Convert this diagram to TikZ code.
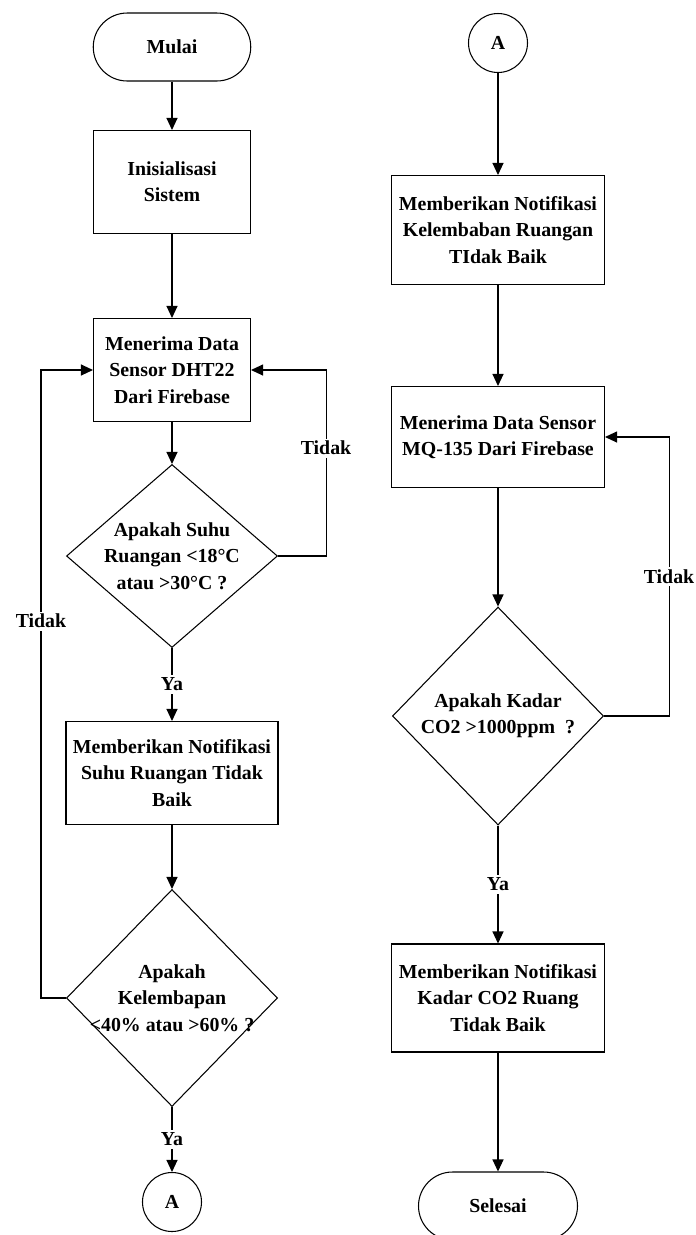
\documentclass[tikz,border=0pt]{standalone}
\usepackage{fontspec}
\setmainfont{Liberation Serif}
\usetikzlibrary{arrows.meta,shapes.geometric}

\begin{document}
\begin{tikzpicture}[
    font=\bfseries\fontsize{11.3}{15}\selectfont,
    line width=0.6pt,
    every node/.style={align=center},
    terminal/.style={draw, rectangle, rounded corners=0.68cm, minimum width=3.15cm, minimum height=1.36cm},
    process/.style={draw, rectangle, minimum width=#1, minimum height=2.06cm, inner sep=1pt},
    process/.default=3.14cm,
    decision/.style={draw, diamond, minimum width=4.22cm, minimum height=#1, inner sep=0pt},
    connector/.style={draw, circle, minimum size=1.18cm, inner sep=0pt},
    arr/.style={-{Triangle[length=2.4mm,width=2.2mm]}},
    lbl/.style={fill=white, inner sep=1.5pt}
]
    \useasboundingbox (0, 0) rectangle (13.92, -24.70);

    % kolom kiri
    \node[terminal] (mulai) at (3.44, -0.94) {Mulai};
    \node[process] (init) at (3.44, -3.64) {Inisialisasi\\Sistem};
    \node[process] (dht) at (3.44, -7.40) {Menerima Data\\Sensor DHT22\\Dari Firebase};
    \node[decision=3.66cm, label={center:{Apakah Suhu\\Ruangan <18°C\\atau >30°C ?}}] (suhu) at (3.44, -11.12) {};
    \node[process=4.24cm] (notifsuhu) at (3.44, -15.46) {Memberikan Notifikasi\\Suhu Ruangan Tidak\\Baik};
    \node[decision=4.34cm, label={center:{Apakah\\Kelembapan\\<40\% atau >60\% ?}}] (lembab) at (3.44, -19.96) {};
    \node[connector] (pA) at (3.44, -24.04) {A};

    % kolom kanan
    \node[connector] (pB) at (9.96, -0.86) {A};
    \node[process=4.26cm, minimum height=2.18cm] (notiflembab) at (9.96, -4.60) {Memberikan Notifikasi\\Kelembaban Ruangan\\TIdak Baik};
    \node[process=4.26cm, minimum height=2.02cm] (mq) at (9.96, -8.74) {Menerima Data Sensor\\MQ-135 Dari Firebase};
    \node[decision=4.36cm, label={center:{Apakah Kadar\\CO2 >1000ppm~~?}}] (co) at (9.96, -14.32) {};
    \node[process=4.26cm, minimum height=2.16cm] (notifco) at (9.96, -19.96) {Memberikan Notifikasi\\Kadar CO2 Ruang\\Tidak Baik};
    \node[terminal, minimum width=3.18cm] (selesai) at (9.96, -24.12) {Selesai};

    \draw[arr] (mulai) -- (init);
    \draw[arr] (init) -- (dht);
    \draw[arr] (dht) -- (suhu);
    \draw[arr] (suhu) -- node[lbl] {Ya} (notifsuhu);
    \draw[arr] (notifsuhu) -- (lembab);
    \draw[arr] (lembab) -- node[lbl] {Ya} (pA);
    \draw[arr] (suhu.east) -- ++(0.96, 0) |- node[lbl, pos=0.29] {Tidak} (dht.east);
    \draw[arr] (lembab.west) -- ++(-0.5, 0) |- node[lbl, pos=0.3] {Tidak} (dht.west);

    \draw[arr] (pB) -- (notiflembab);
    \draw[arr] (notiflembab) -- (mq);
    \draw[arr] (mq) -- (co);
    \draw[arr] (co) -- node[lbl] {Ya} (notifco);
    \draw[arr] (notifco) -- (selesai);
    \draw[arr] (co.east) -- ++(1.3, 0) |- node[lbl, pos=0.25] {Tidak} (mq.east);

\end{tikzpicture}
\end{document}
